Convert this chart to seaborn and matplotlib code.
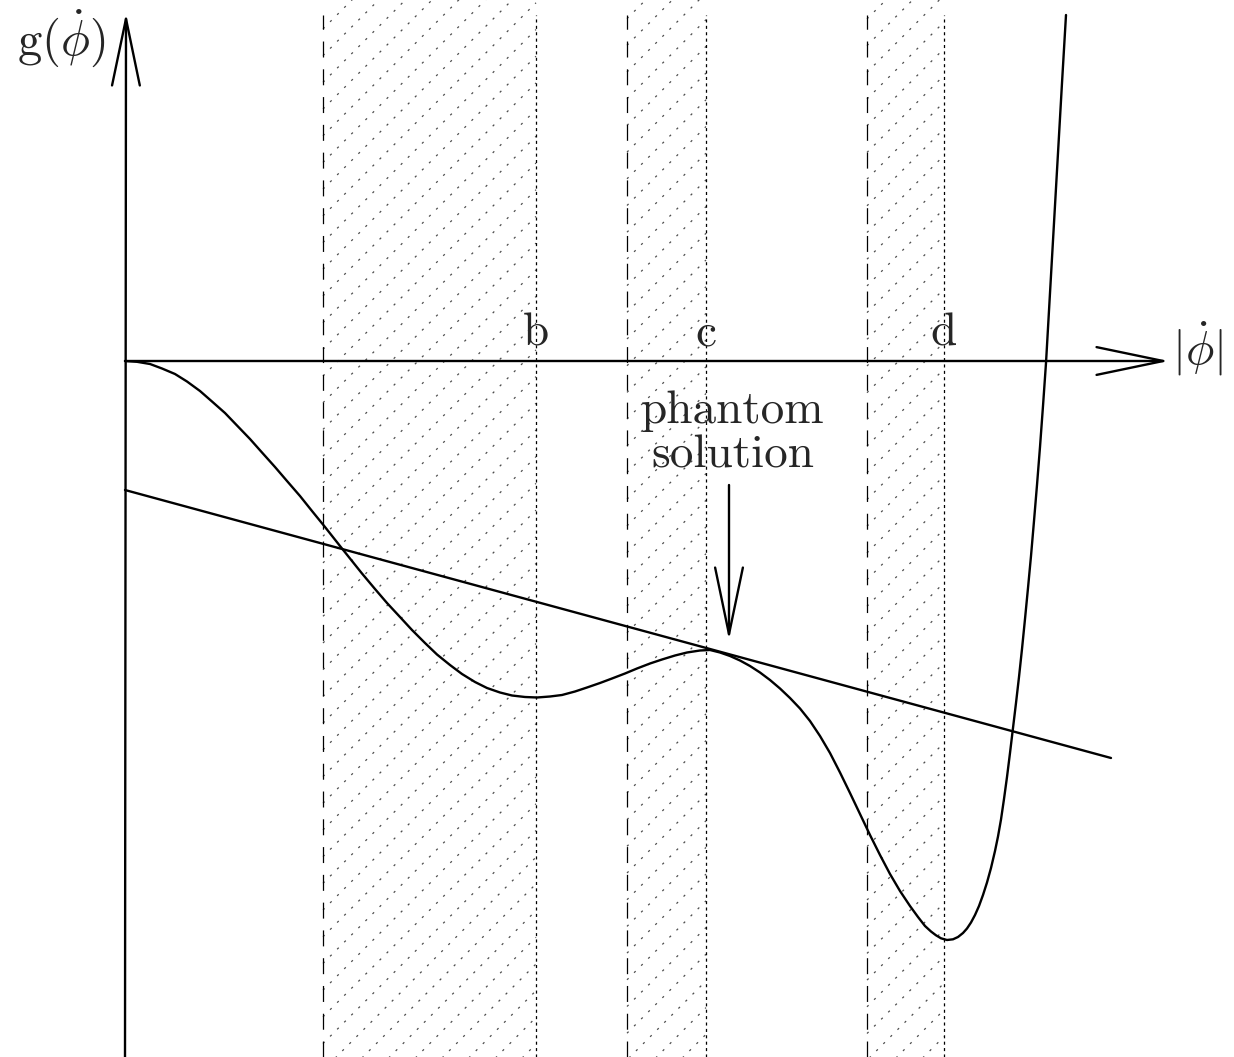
import matplotlib
matplotlib.use('Agg')
import matplotlib.pyplot as plt
from matplotlib.patches import Rectangle
import numpy as np
import pandas as pd
import seaborn as sns

# --- curve g(|phi_dot|) (x right of origin, g up from axis) ---
curve_x = [0, 12, 25, 37, 50, 62, 75, 87, 100, 112, 125, 137, 150, 162, 175, 187,
           200, 215, 225, 237, 250, 262, 275, 287, 300, 312, 325, 337, 350, 362, 375,
           387, 400, 412, 425, 437, 450, 462, 475, 487, 500, 512, 525, 537, 550, 562,
           575, 585, 595, 605, 615, 625, 635, 645, 655, 665, 675, 685, 695, 705, 715,
           725, 735, 745, 755, 765, 775, 785, 793, 800, 806, 811, 816, 822, 828, 833,
           838, 842, 846, 850, 854, 858, 862, 866, 870, 873, 876, 879, 882, 885, 888,
           891, 894, 897, 900, 903, 906, 909, 912, 915, 918, 921, 925, 929, 933, 937,
           941]
curve_g = [0, -0.8, -3, -7.5, -13, -20.5, -30, -40.5, -52, -64.5, -78, -91.5, -106, -120, -135, -150,
           -166, -185, -197.5, -212.5, -228, -242, -256, -269, -282, -293.5, -304, -313, -321, -327, -331.5,
           -334.5, -336, -336.5, -335.5, -334, -330.5, -326.5, -322, -317.5, -312.5, -307.5, -302.5, -298.5, -294.5, -291.5,
           -289.5, -289, -291.5, -295, -299.5, -305, -311.5, -319, -327.5, -337, -347.5, -360, -375, -392, -411.5,
           -432, -453, -474, -494, -513, -530, -545, -556, -565, -570.5, -574.3, -577.3, -579, -578.3, -576,
           -572, -567.5, -561.5, -554, -545, -534, -521.5, -507, -490, -475.5, -458.5, -438, -416, -392, -367,
           -342, -316, -288, -258, -227, -195, -160, -124, -86, -45, -2, 68, 138, 208, 278,
           346]

# straight line touching the curve at the phantom solution
line_x = [0, 986]
line_g = [-129, -397]

# shaded bands: dashed left edge, dotted right edge, labels over right edge
band_left = [198, 502, 742]
band_right = [411, 581, 819]
band_labels = ['b', 'c', 'd']

sns.set_style('white')
plt.rcParams['mathtext.fontset'] = 'cm'
plt.rcParams['lines.scale_dashes'] = False

fig = plt.figure(figsize=(12.34, 10.57), dpi=100)
ax = fig.add_axes([0, 0, 1, 1])
ax.set_xlim(-125, 1109)
ax.set_ylim(-696, 361)
ax.axis('off')

top, bot = 346, -696

# bands with dotted diagonal hatching
for x0, x1 in zip(band_left, band_right):
    clip = Rectangle((x0, bot), x1 - x0, top - bot, transform=ax.transData)
    for c in np.arange(213 - 26.7 * 60, 213 + 26.7 * 60, 26.7):
        if x1 - c < bot or x0 - c > top:
            continue
        ax.plot([x0, x1], [x0 - c, x1 - c], color='0.3', lw=0.9,
                ls=(0, (1.6, 5.6)), clip_path=clip)
    ax.plot([x0, x0], [bot, top], color='black', lw=0.9, ls=(0, (11.5, 8.5)))
    ax.plot([x1, x1], [bot, top], color='black', lw=0.9, ls=(0, (2.2, 2.4)))

for x1, lab in zip(band_right, band_labels):
    ax.text(x1, 16, lab, family='cmr10', fontsize=34, ha='center', va='baseline')

# curve and tangent line
df = pd.DataFrame({'x': curve_x, 'g': curve_g})
sns.lineplot(data=df, x='x', y='g', color='black', lw=1.7, sort=False,
             estimator=None, ax=ax)
sns.lineplot(x=line_x, y=line_g, color='black', lw=1.7, estimator=None, ax=ax)
ax.set_xlabel('')
ax.set_ylabel('')

# axes with open arrow heads
head = '->,head_length=4.8,head_width=1.0'
ax.annotate('', xy=(1, 348), xytext=(0, -696),
            arrowprops=dict(arrowstyle=head, lw=1.7, color='black',
                            mutation_scale=10, shrinkA=0, shrinkB=0))
ax.annotate('', xy=(1044, 0), xytext=(0, 0),
            arrowprops=dict(arrowstyle=head, lw=1.7, color='black',
                            mutation_scale=10, shrinkA=0, shrinkB=0))

ax.text(-64, 323, r'$\mathrm{g}(\dot{\phi})$', fontsize=35, ha='center', va='center')
ax.text(1072, 12, r'$|\dot{\phi}|$', fontsize=34, ha='center', va='center')

# phantom solution annotation
ax.text(608, -106, 'phantom\nsolution', family='cmr10', fontsize=34, ha='center',
        va='baseline', linespacing=1.08)
ax.annotate('', xy=(604, -279), xytext=(604, -124),
            arrowprops=dict(arrowstyle=head, lw=1.7, color='black',
                            mutation_scale=10, shrinkA=0, shrinkB=0))

fig.savefig('out.png', dpi=100)
